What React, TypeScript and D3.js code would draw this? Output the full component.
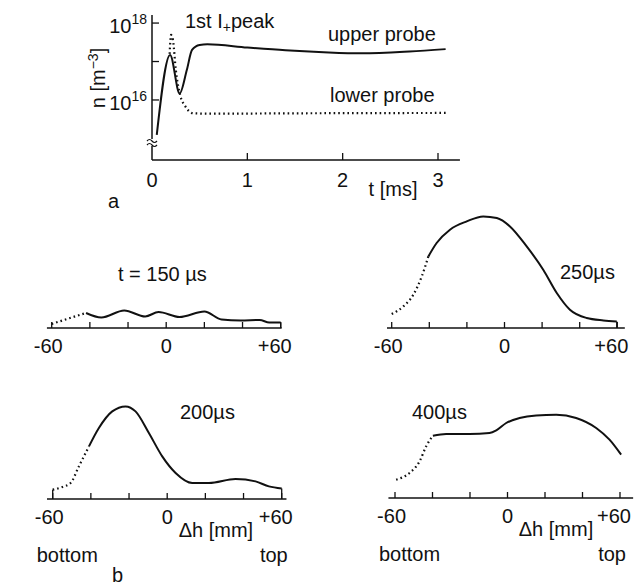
import React from 'react';
import * as d3 from 'd3';

const FONT = "'Liberation Sans', Arial, sans-serif";
const INK = '#111';

// (a) density versus time after the first I+ peak
const upperTime = [0.05, 0.19, 0.29, 0.365, 0.42, 0.5, 0.58, 1.0, 1.4, 1.8, 2.2, 2.7, 3.08];
const upperDensity = [1.23e15, 1.48e17, 1.48e16, 6.0e16, 2.0e17, 2.7e17, 2.8e17, 2.3e17, 1.95e17, 1.74e17, 1.63e17, 1.82e17, 2.1e17];
const lowerTime = [0.185, 0.2, 0.22, 0.25, 0.295, 0.35, 0.435, 0.6, 1.5, 3.1];
const lowerDensity = [1.58e17, 4.9e17, 3.6e17, 6.0e16, 1.35e16, 6.8e15, 4.5e15, 4.4e15, 4.5e15, 4.6e15];
const timeTicks = [0, 1, 2, 3];
const densityTicks = [1e16, 1e17, 1e18];
const densityLabelExponents = [18, 16];

// (b) vertical profiles, Δh in mm, density in arbitrary units
const heightTicks = [-60, -40, -20, 0, 20, 40, 60];
const heightTickLabels = [-60, 0, 60];

const profile150Mm = [-60, -52, -42, -34, -22, -11, -4, 7, 20, 29, 39, 49, 54, 60];
const profile150Val = [0.4, 0.9, 1.5, 1.05, 1.75, 1.15, 1.6, 1.1, 1.65, 0.85, 0.75, 0.8, 0.55, 0.55];
const profile150SolidFrom = -42;

const profile250Mm = [-60, -53.8, -48.5, -44, -40.5, -36.1, -29, -20.1, -11.3, -4.1, 2.9, 11.8, 20.6, 27.8, 34.8, 43.7, 52.6, 59.7];
const profile250Val = [1.4, 2.16, 3.33, 5.16, 7.16, 8.5, 9.83, 10.66, 11.16, 11.0, 10.16, 8.16, 5.83, 3.5, 1.83, 1.0, 0.76, 0.66];
const profile250SolidFrom = -40.5;

const profile200Mm = [-60, -55, -50.6, -46.3, -41, -35.8, -28.8, -21.8, -16.6, -9.6, -2.6, 4.4, 13.1, 21.9, 35.8, 46.3, 53.3, 60];
const profile200Val = [0.93, 1.2, 1.6, 3.26, 5.26, 7.1, 8.76, 9.26, 8.76, 6.6, 4.26, 2.6, 1.6, 1.6, 2.0, 1.76, 1.26, 1.05];
const profile200SolidFrom = -41;

const profile400Mm = [-59.4, -52.3, -46.9, -43.4, -39.8, -32.7, -20.3, -9.6, -6.0, -0.7, 6.4, 15.3, 26.0, 36.6, 47.3, 54.4, 60.6];
const profile400Val = [1.83, 2.5, 3.66, 5.16, 6.23, 6.4, 6.4, 6.5, 6.76, 7.5, 8.0, 8.26, 8.33, 8.0, 7.0, 5.83, 4.33];
const profile400SolidFrom = -39.8;

type Pt = [number, number];
const zip = (a: number[], b: number[]): Pt[] => a.map((v, i) => [v, b[i]]);

function TimePanel() {
  const x = d3.scaleLinear().domain([0, 3]).range([152, 438]);
  const y = d3.scaleLog().domain([2.75e14, 1.62e18]).range([160, 15]);
  const line = d3
    .line<Pt>()
    .x((d) => x(d[0]))
    .y((d) => y(d[1]))
    .curve(d3.curveMonotoneX);
  const x0 = x(0);
  const yBase = y.range()[0];
  const yBreak = 142;
  return (
    <g>
      {/* axes with a break mark near the bottom of the density axis */}
      <line x1={x0} x2={x0} y1={y.range()[1]} y2={yBreak - 3} stroke={INK} strokeWidth={1.5} />
      <line x1={x0} x2={x0} y1={yBreak + 4} y2={yBase} stroke={INK} strokeWidth={1.5} />
      <path d={`M${x0 - 5},${yBreak - 1} q2.5,-3 5,0 t5,0`} fill="none" stroke={INK} strokeWidth={1.2} />
      <path d={`M${x0 - 5},${yBreak + 3} q2.5,-3 5,0 t5,0`} fill="none" stroke={INK} strokeWidth={1.2} />
      <line x1={x0} x2={x(3.23)} y1={yBase} y2={yBase} stroke={INK} strokeWidth={1.5} />
      {timeTicks.filter((t) => t > 0).map((t) => (
        <line key={t} x1={x(t)} x2={x(t)} y1={yBase} y2={yBase - 7} stroke={INK} strokeWidth={1.3} />
      ))}
      {densityTicks.map((v) => (
        <line key={v} x1={x0} x2={x0 + 7} y1={y(v)} y2={y(v)} stroke={INK} strokeWidth={1.3} />
      ))}
      {timeTicks.map((t) => (
        <text key={t} x={x(t)} y={yBase + 27} textAnchor="middle">{t}</text>
      ))}
      {densityLabelExponents.map((e) => (
        <text key={e} x={x0 - 5} y={y(Math.pow(10, e)) + 10} textAnchor="end">
          10<tspan dy={-9} fontSize={14}>{e}</tspan>
        </text>
      ))}
      <text transform={`translate(105,78) rotate(-90)`} textAnchor="middle">
        n [m<tspan dy={-7} fontSize={14}>−3</tspan><tspan dy={7}>]</tspan>
      </text>
      <text x={393} y={196} textAnchor="middle">t [ms]</text>
      <text x={185} y={28}>
        1st  I<tspan dy={4} fontSize={14}>+</tspan><tspan dy={-4}>peak</tspan>
      </text>
      <text x={328} y={41}>upper probe</text>
      <text x={330} y={102}>lower probe</text>
      <text x={108} y={208}>a</text>

      {/* curves */}
      <path d={line(zip(upperTime, upperDensity)) ?? ''} fill="none" stroke={INK} strokeWidth={2} />
      <path
        d={line(zip(lowerTime, lowerDensity)) ?? ''}
        fill="none"
        stroke={INK}
        strokeWidth={2.2}
        strokeDasharray="1.6 3"
      />
    </g>
  );
}

interface ProfileProps {
  mm: number[];
  val: number[];
  solidFrom: number;
  left: number;
  right: number;
  axisY: number;
  axisExtent: [number, number];
  title: string;
  titleX: number;
  titleY: number;
  closeLeft?: boolean;
  closeRight?: boolean;
  withUnits?: boolean;
}

function Profile(p: ProfileProps) {
  const x = d3.scaleLinear().domain([-60, 60]).range([p.left, p.right]);
  const y = d3.scaleLinear().domain([0, 10]).range([p.axisY, p.axisY - 100]);
  const line = d3
    .line<Pt>()
    .x((d) => x(d[0]))
    .y((d) => y(d[1]))
    .curve(d3.curveMonotoneX);
  const pts = zip(p.mm, p.val);
  const dotted = pts.filter((d) => d[0] <= p.solidFrom);
  const solid = pts.filter((d) => d[0] >= p.solidFrom);
  const first = pts[0];
  const last = pts[pts.length - 1];
  return (
    <g>
      <line
        x1={x(p.axisExtent[0])}
        x2={x(p.axisExtent[1])}
        y1={p.axisY}
        y2={p.axisY}
        stroke={INK}
        strokeWidth={1.5}
      />
      {heightTicks.map((t) => (
        <line key={t} x1={x(t)} x2={x(t)} y1={p.axisY} y2={p.axisY - 6} stroke={INK} strokeWidth={1.3} />
      ))}
      {p.closeLeft && (
        <line x1={x(first[0])} x2={x(first[0])} y1={p.axisY} y2={y(first[1])} stroke={INK} strokeWidth={1.3} />
      )}
      {p.closeRight && (
        <line x1={x(last[0])} x2={x(last[0])} y1={p.axisY} y2={y(last[1])} stroke={INK} strokeWidth={1.3} />
      )}
      {heightTickLabels.map((t) => (
        <text
          key={t}
          x={t === 0 ? x(t) : x(t) + 11}
          y={p.axisY + 25}
          textAnchor={t === 0 ? 'middle' : 'end'}
        >
          {t > 0 ? `+${t}` : `${t}`}
        </text>
      ))}
      <text x={p.titleX} y={p.titleY}>{p.title}</text>
      {p.withUnits && (
        <>
          <text x={x(6)} y={p.axisY + 38}>Δh [mm]</text>
          <text x={x(-60) - 16} y={p.axisY + 63}>bottom</text>
          <text x={x(60) + 6} y={p.axisY + 63} textAnchor="end">top</text>
        </>
      )}
      <path d={line(dotted) ?? ''} fill="none" stroke={INK} strokeWidth={2.2} strokeDasharray="1.6 3" />
      <path d={line(solid) ?? ''} fill="none" stroke={INK} strokeWidth={2} />
    </g>
  );
}

export default function App() {
  return (
    <svg
      width={635}
      height={586}
      viewBox="0 0 635 586"
      style={{ position: 'absolute', left: 0, top: 0, background: '#fff' }}
      fontFamily={FONT}
      fontSize={20}
      fill={INK}
    >
      <rect width={635} height={586} fill="#fff" />
      <TimePanel />
      <Profile
        mm={profile150Mm}
        val={profile150Val}
        solidFrom={profile150SolidFrom}
        left={51.7}
        right={280.7}
        axisY={328}
        axisExtent={[-62.5, 60.5]}
        title="t = 150 µs"
        titleX={118}
        titleY={281}
        closeRight
      />
      <Profile
        mm={profile250Mm}
        val={profile250Val}
        solidFrom={profile250SolidFrom}
        left={391.7}
        right={617.3}
        axisY={328}
        axisExtent={[-62.5, 64]}
        title="250µs"
        titleX={560}
        titleY={279}
        closeRight
      />
      <Profile
        mm={profile200Mm}
        val={profile200Val}
        solidFrom={profile200SolidFrom}
        left={52.7}
        right={281.7}
        axisY={499}
        axisExtent={[-63, 62.5]}
        title="200µs"
        titleX={180}
        titleY={419}
        closeLeft
        closeRight
        withUnits
      />
      <Profile
        mm={profile400Mm}
        val={profile400Val}
        solidFrom={profile400SolidFrom}
        left={395}
        right={620}
        axisY={498}
        axisExtent={[-63.5, 67]}
        title="400µs"
        titleX={412}
        titleY={419}
        withUnits
      />
      <text x={112} y={582}>b</text>
    </svg>
  );
}
